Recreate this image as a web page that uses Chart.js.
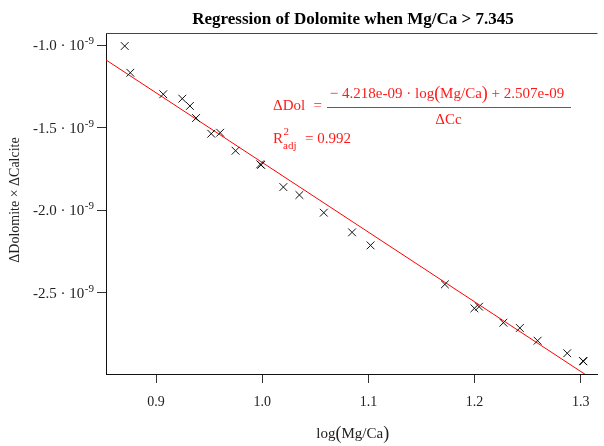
<!DOCTYPE html>
<html><head><meta charset="utf-8">
<script src="https://cdn.jsdelivr.net/npm/chart.js@4/dist/chart.umd.min.js"></script>
<style>html,body{margin:0;padding:0;background:#fff;}canvas{display:block;}</style>
</head><body>
<canvas id="c" width="604" height="446"></canvas>
<script>
// ---- data ----
const logMgCa = [0.8705,0.8758,0.9068,0.9247,0.9319,0.9377,0.9520,0.9604,0.9749,0.9981,0.9990,1.0199,1.0350,1.0580,1.0846,1.1020,1.1720,1.1998,1.2042,1.2271,1.2426,1.2593,1.2872,1.3020,1.3025];
const dDolxdCc = [-1.006e-9,-1.168e-9,-1.298e-9,-1.325e-9,-1.369e-9,-1.442e-9,-1.537e-9,-1.531e-9,-1.640e-9,-1.722e-9,-1.726e-9,-1.860e-9,-1.908e-9,-2.015e-9,-2.134e-9,-2.213e-9,-2.449e-9,-2.594e-9,-2.584e-9,-2.681e-9,-2.713e-9,-2.790e-9,-2.866e-9,-2.913e-9,-2.915e-9];
const slope = -4.218e-9;
const intercept = 2.507e-9;
const r2adj = 0.992;
const xTicks = [0.9,1.0,1.1,1.2,1.3];
const yTicks = [-1.0e-9,-1.5e-9,-2.0e-9,-2.5e-9];
const yTickMantissa = ['-1.0','-1.5','-2.0','-2.5'];
const yTickExp = '-9';
const xRange = [0.85288,1.31572];
const yRange = [-2.99153e-9,-0.92736e-9];
const titleText = 'Regression of Dolomite when Mg/Ca > 7.345';

const FF = '"Liberation Serif", "DejaVu Serif", serif';
const scatterPts = logMgCa.map((x,i)=>({x:x,y:dDolxdCc[i]}));
const linePts = [xRange[0]-0.01, xRange[1]+0.01].map(x=>({x:x,y:slope*x+intercept}));

function drawSeq(ctx, parts, x, y, align){
  let total=0;
  parts.forEach(p=>{ctx.font=p[1]; total+=ctx.measureText(p[0]).width;});
  let cx = align==='center' ? x-total/2 : (align==='right' ? x-total : x);
  ctx.textAlign='left';
  parts.forEach(p=>{ctx.font=p[1]; ctx.fillText(p[0],cx,y+(p[2]||0)); cx+=ctx.measureText(p[0]).width;});
  return total;
}

const decor = {
  id:'decor',
  afterDraw(chart){
    const ctx=chart.ctx, a=chart.chartArea, ys=chart.scales.y;
    ctx.save();
    // top frame
    ctx.strokeStyle='#444'; ctx.lineWidth=1;
    ctx.beginPath(); ctx.moveTo(a.left, a.top+0.5); ctx.lineTo(a.right, a.top+0.5); ctx.stroke();
    // title
    ctx.fillStyle='#000'; ctx.textBaseline='alphabetic'; ctx.textAlign='center';
    ctx.font='bold 17px '+FF;
    ctx.fillText(titleText,353,24);
    // y tick labels
    ctx.fillStyle='#222';
    ys.ticks.forEach((t,i)=>{
      const py = ys.getPixelForValue(t.value);
      const k = yTicks.indexOf(t.value);
      const mant = yTickMantissa[k>=0?k:i];
      ctx.font='11px '+FF;
      const sw = ctx.measureText(yTickExp).width;
      ctx.textAlign='left'; ctx.textBaseline='alphabetic';
      ctx.fillText(yTickExp, 94-sw, py-1);
      ctx.font='15px '+FF; ctx.textAlign='right';
      ctx.fillText(mant+' \u00B7 10', 94-sw-0.5, py+5);
    });
    // axis titles
    ctx.fillStyle='#222'; ctx.textBaseline='alphabetic';
    drawSeq(ctx,[['log',"15px "+FF],['(',"18px "+FF,1],['Mg/Ca',"15px "+FF],[')',"18px "+FF,1]],(a.left+a.right)/2+1,438,'center');
    ctx.save(); ctx.translate(19,200); ctx.rotate(-Math.PI/2);
    ctx.textAlign='center'; ctx.font='14px '+FF; ctx.fillText('\u0394Dolomite \u00D7 \u0394Calcite',0,0);
    ctx.restore();
    // regression annotation
    ctx.fillStyle='#ff1a1a'; ctx.strokeStyle='#ff1a1a';
    ctx.textBaseline='alphabetic';
    const f='15px '+FF, fb='18px '+FF;
    drawSeq(ctx,[['\u0394Dol',f]],273,110,'left');
    drawSeq(ctx,[['=',f]],322,110,'right');
    const num = [['\u2212 '+Math.abs(slope/1e-9).toFixed(3)+'e-09 \u00B7 log',f],['(',fb,1],['Mg/Ca',f],[')',fb,1],[' + '+(intercept/1e-9).toFixed(3)+'e-09',f]];
    drawSeq(ctx,num,447,98,'center');
    ctx.beginPath(); ctx.moveTo(327,107.5); ctx.lineTo(571,107.5); ctx.stroke();
    drawSeq(ctx,[['\u0394Cc',f]],448.5,124,'center');
    ctx.font=f; ctx.textAlign='left'; ctx.fillText('R',273,143);
    const rw = ctx.measureText('R').width;
    ctx.font='11px '+FF; ctx.fillText('2',273+rw+0.5,135);
    ctx.fillText('adj',273+rw,149);
    ctx.font=f; ctx.fillText('= '+r2adj.toFixed(3),305,143);
    ctx.restore();
  }
};

new Chart(document.getElementById('c'),{
  type:'scatter',
  data:{datasets:[
    {type:'line',data:linePts,borderColor:'#ff0000',borderWidth:1,pointRadius:0,fill:false,order:2},
    {data:scatterPts,pointStyle:'crossRot',pointRadius:5.5,borderColor:'#111',backgroundColor:'#111',pointBorderWidth:1,borderWidth:1,order:1}
  ]},
  options:{
    responsive:false,animation:false,devicePixelRatio:1,
    layout:{padding:{top:33,left:0,right:0,bottom:0}},
    plugins:{legend:{display:false},title:{display:false},tooltip:{enabled:false}},
    scales:{
      x:{type:'linear',position:'bottom',min:xRange[0],max:xRange[1],
        afterFit:s=>{s.height=72;},
        afterBuildTicks:s=>{s.ticks=xTicks.map(v=>({value:v}));},
        grid:{drawOnChartArea:false,drawTicks:true,tickLength:9,color:'#333'},
        border:{display:true,color:'#111',width:1},
        ticks:{font:{family:FF,size:14},color:'#222',padding:11,maxRotation:0,autoSkip:false,callback:v=>v.toFixed(1)}},
      y:{type:'linear',min:yRange[0],max:yRange[1],
        afterFit:s=>{s.width=106;},
        afterBuildTicks:s=>{s.ticks=yTicks.map(v=>({value:v}));},
        grid:{drawOnChartArea:false,drawTicks:true,tickLength:9,color:'#333'},
        border:{display:true,color:'#111',width:1},
        ticks:{display:false}}
    }
  },
  plugins:[decor]
});
</script>
</body></html>
